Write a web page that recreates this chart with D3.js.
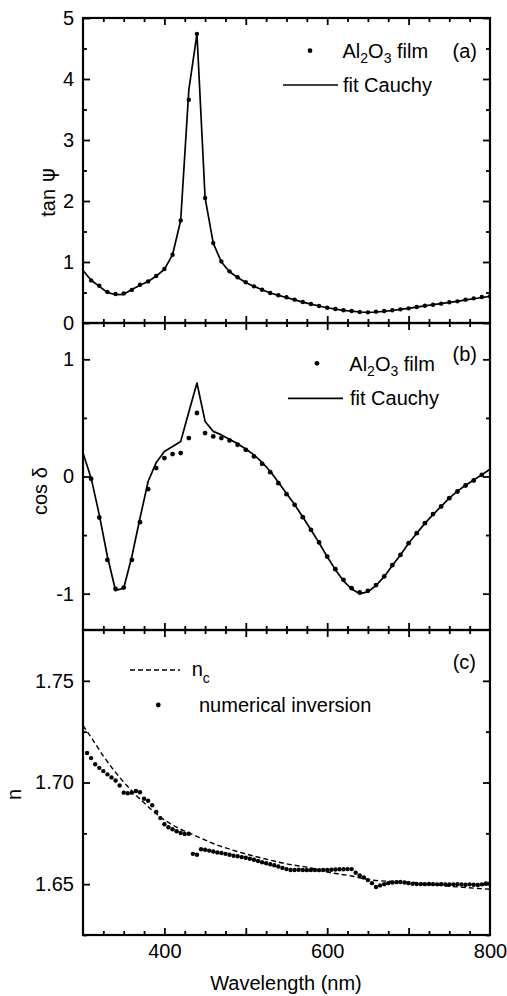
<!DOCTYPE html>
<html><head><meta charset="utf-8">
<script src="https://cdn.jsdelivr.net/npm/d3@7/dist/d3.min.js"></script>
<style>
body{margin:0;background:#fff;}
svg{display:block;font-family:"Liberation Sans",Arial,Helvetica,sans-serif;}
</style></head><body>
<svg id="chart" width="507" height="996"></svg>
<script>
// ---------- Panel (a): tan psi ----------
const waveAData = [310,320,330,340,350,360,370,380,390,400,410,420,430,440,450,460,470,480,490,500,510,520,530,540,550,560,570,580,590,600,610,620,630,640,650,660,670,680,690,700,710,720,730,740,750,760,770,780,790,800];
const tanPsiData = [0.698,0.611,0.508,0.475,0.485,0.543,0.628,0.682,0.772,0.885,1.12,1.68,3.66,4.74,2.05,1.31,1.01,0.847,0.749,0.667,0.601,0.546,0.492,0.454,0.421,0.383,0.344,0.311,0.279,0.251,0.230,0.208,0.197,0.180,0.175,0.186,0.197,0.208,0.224,0.240,0.262,0.284,0.300,0.317,0.339,0.355,0.383,0.404,0.426,0.437];
const waveFit = [300,310,320,330,340,350,360,370,380,390,400,410,420,430,440,450,460,470,480,490,500,510,520,530,540,550,560,570,580,590,600,610,620,630,640,650,660,670,680,690,700,710,720,730,740,750,760,770,780,790,800];
const tanPsiFit = [0.862,0.70,0.60,0.50,0.465,0.47,0.55,0.62,0.68,0.77,0.88,1.12,1.68,3.82,4.74,2.05,1.31,1.0,0.84,0.745,0.665,0.60,0.545,0.492,0.452,0.418,0.38,0.343,0.31,0.278,0.25,0.228,0.207,0.195,0.18,0.175,0.18,0.19,0.205,0.222,0.24,0.26,0.28,0.30,0.318,0.337,0.356,0.378,0.398,0.418,0.437];

// ---------- Panel (b): cos delta ----------
const waveBData = [310,320,330,340,350,360,370,380,390,400,410,420,430,440,450,460,470,480,490,500,510,520,530,540,550,560,570,580,590,600,610,620,630,640,650,660,670,680,690,700,710,720,730,740,750,760,770,780,790];
const cosDeltaData = [-0.02,-0.35,-0.712,-0.96,-0.948,-0.712,-0.39,-0.108,0.072,0.157,0.191,0.2,0.328,0.542,0.371,0.342,0.328,0.308,0.271,0.228,0.171,0.108,0.037,-0.057,-0.151,-0.242,-0.347,-0.455,-0.563,-0.683,-0.791,-0.882,-0.953,-0.99,-0.976,-0.927,-0.853,-0.757,-0.669,-0.569,-0.484,-0.398,-0.321,-0.256,-0.185,-0.128,-0.077,-0.034,0.014];
const cosDeltaFit = [0.20,-0.014,-0.327,-0.683,-0.973,-0.953,-0.683,-0.356,-0.043,0.12,0.214,0.256,0.299,0.55,0.798,0.47,0.385,0.355,0.318,0.28,0.235,0.185,0.12,0.045,-0.05,-0.145,-0.24,-0.345,-0.455,-0.565,-0.685,-0.795,-0.89,-0.96,-1.0,-0.985,-0.93,-0.855,-0.76,-0.67,-0.57,-0.485,-0.40,-0.325,-0.255,-0.185,-0.125,-0.075,-0.03,0.015,0.063];

// ---------- Panel (c): refractive index ----------
const waveNc = [300,312,325,340,355,375,395,415,437,460,490,518,550,580,600,630,655,700,750,800];
const nCauchy = [1.728,1.721,1.713,1.705,1.698,1.690,1.683,1.678,1.674,1.670,1.666,1.663,1.660,1.658,1.656,1.654,1.652,1.651,1.649,1.6475];
const waveInv = [305,310,315,320,325,330,335,340,345,350,355,360,365,370,375,380,385,390,395,400,405,410,415,420,425,430,435,440,445,450,455,460,465,470,475,480,485,490,495,500,505,510,515,520,525,530,535,540,545,550,555,560,565,570,575,580,585,590,595,600,605,610,615,620,625,630,635,640,645,650,655,660,665,670,675,680,685,690,695,700,705,710,715,720,725,730,735,740,745,750,755,760,765,770,775,780,785,790,795,800];
const nInversion = [1.7145,1.712,1.709,1.7072,1.7056,1.704,1.7025,1.701,1.6985,1.695,1.6947,1.695,1.6958,1.6952,1.692,1.691,1.6888,1.6855,1.6825,1.6795,1.678,1.677,1.676,1.6752,1.6747,1.6748,1.6649,1.6645,1.6672,1.6669,1.6665,1.6661,1.6656,1.6653,1.6649,1.6645,1.664,1.6637,1.6633,1.663,1.6625,1.662,1.6614,1.6608,1.6603,1.6598,1.6593,1.6587,1.658,1.6574,1.657,1.657,1.6571,1.657,1.6569,1.657,1.657,1.6569,1.657,1.657,1.6571,1.6572,1.6573,1.6573,1.6574,1.6574,1.6556,1.6543,1.6533,1.652,1.6505,1.6486,1.6494,1.65,1.6505,1.6508,1.651,1.6511,1.6508,1.6505,1.6502,1.6501,1.65,1.65,1.6501,1.65,1.6499,1.65,1.6499,1.6498,1.6499,1.65,1.6498,1.6497,1.6499,1.6497,1.6496,1.6499,1.6503,1.6503];

// ---------- Axis ticks / labels ----------
const xMajorTicks = [400,500,600,700];
const xTickLabels = [400,600,800];
const tanTicks = [0,1,2,3,4,5];
const cosTicks = [-1,0,1];
const nTicks = [1.65,1.70,1.75];

const svg = d3.select("#chart");
const FS = 20;
const x = d3.scaleLinear().domain([300,800]).range([83,490]);
const xMinor = d3.range(300,801,25).filter(v => v%100!==0);

const panels = [
  {id:"a", top:18, bottom:323, domain:[0,5], major:tanTicks, minor:[0.5,1.5,2.5,3.5,4.5], fmt:d3.format("d")},
  {id:"b", top:323, bottom:630, domain:[-1.31,1.31], major:cosTicks, minor:[-0.5,0.5], fmt:d=> d<0 ? "-"+Math.abs(d) : String(d)},
  {id:"c", top:630, bottom:935, domain:[1.625,1.775], major:nTicks, minor:[1.625,1.675,1.725], fmt:d3.format(".2f")}
];

const defs = svg.append("defs");
panels.forEach(p => {
  p.y = d3.scaleLinear().domain(p.domain).range([p.bottom,p.top]);
  defs.append("clipPath").attr("id","clip"+p.id).append("rect")
    .attr("x",83).attr("y",p.top).attr("width",407).attr("height",p.bottom-p.top);
});

function axes(p, showX){
  const g = svg.append("g").attr("class","axes").style("font-size",FS+"px");
  const mk = (sel) => { sel.select(".domain").remove(); sel.selectAll("line").attr("stroke","#000").attr("stroke-width",1.8); sel.selectAll("text").attr("fill","#000").style("font-size",FS+"px").style("font-family","'Liberation Sans',Arial,sans-serif"); };
  g.append("g").attr("transform","translate(83,0)").call(d3.axisLeft(p.y).tickValues(p.major).tickSize(-7).tickPadding(9).tickFormat(p.fmt)).call(mk);
  g.append("g").attr("transform","translate(83,0)").call(d3.axisLeft(p.y).tickValues(p.minor).tickSize(-4).tickFormat("")).call(mk);
  g.append("g").attr("transform","translate(490,0)").call(d3.axisRight(p.y).tickValues(p.major).tickSize(-7).tickFormat("")).call(mk);
  g.append("g").attr("transform","translate(490,0)").call(d3.axisRight(p.y).tickValues(p.minor).tickSize(-4).tickFormat("")).call(mk);
  g.append("g").attr("transform",`translate(0,${p.top})`).call(d3.axisTop(x).tickValues(xMajorTicks).tickSize(-7).tickFormat("")).call(mk);
  g.append("g").attr("transform",`translate(0,${p.top})`).call(d3.axisTop(x).tickValues(xMinor).tickSize(-4).tickFormat("")).call(mk);
  g.append("g").attr("transform",`translate(0,${p.bottom})`).call(d3.axisBottom(x).tickValues(xMajorTicks).tickSize(-7).tickFormat("")).call(mk);
  g.append("g").attr("transform",`translate(0,${p.bottom})`).call(d3.axisBottom(x).tickValues(xMinor).tickSize(-4).tickFormat("")).call(mk);
  if(showX){
    g.append("g").attr("transform",`translate(0,${p.bottom})`).call(d3.axisBottom(x).tickValues(xTickLabels).tickSize(0).tickPadding(9).tickFormat(d3.format("d"))).call(mk);
  }
  svg.append("rect").attr("x",83).attr("y",p.top).attr("width",407).attr("height",p.bottom-p.top)
    .attr("fill","none").attr("stroke","#000").attr("stroke-width",2.2);
}

const lineGen = (y, curve) => d3.line().x(d=>x(d[0])).y(d=>y(d[1])).curve(curve||d3.curveLinear);
const zip = (a,b) => a.map((v,i)=>[v,b[i]]);

function dots(p, w, v, r){
  svg.append("g").attr("clip-path",`url(#clip${p.id})`).selectAll("circle").data(zip(w,v)).join("circle")
    .attr("cx",d=>x(d[0])).attr("cy",d=>p.y(d[1])).attr("r",r).attr("fill","#000");
}
function path(p, w, v, dash, curve, sw){
  svg.append("path").attr("clip-path",`url(#clip${p.id})`).datum(zip(w,v))
    .attr("d",lineGen(p.y,curve)).attr("fill","none").attr("stroke","#000")
    .attr("stroke-width",sw||1.7).attr("stroke-dasharray",dash||null).attr("stroke-linejoin","round");
}

const [pa,pb,pc] = panels;
path(pa, waveFit, tanPsiFit);
dots(pa, waveAData, tanPsiData, 2.2);
path(pb, waveFit, cosDeltaFit);
dots(pb, waveBData, cosDeltaData, 2.4);
path(pc, waveNc, nCauchy, "5,3", d3.curveMonotoneX, 1.4);
dots(pc, waveInv, nInversion, 2.2);

panels.forEach((p,i)=>axes(p, i===2));

// ---------- Legends & labels ----------
const T = (xx,yy,txt,anchor) => svg.append("text").attr("x",xx).attr("y",yy).attr("text-anchor",anchor||"start").style("font-size",FS+"px").attr("fill","#000").text(txt);
function alo(xx,yy){
  const t = svg.append("text").attr("x",xx).attr("y",yy).style("font-size",FS+"px").attr("fill","#000");
  t.append("tspan").text("Al");
  t.append("tspan").attr("dy",5).style("font-size","14px").text("2");
  t.append("tspan").attr("dy",-5).text("O");
  t.append("tspan").attr("dy",5).style("font-size","14px").text("3");
  t.append("tspan").attr("dy",-5).text(" film");
  return t;
}
svg.append("circle").attr("cx",310).attr("cy",50.7).attr("r",2.4).attr("fill","#000");
alo(342.5,58);
T(477,58,"(a)","end");
svg.append("line").attr("x1",283).attr("x2",338).attr("y1",85).attr("y2",85).attr("stroke","#000").attr("stroke-width",1.7);
T(343,91.7,"fit Cauchy");

svg.append("circle").attr("cx",317).attr("cy",363.3).attr("r",2.4).attr("fill","#000");
alo(349.3,371);
T(477,361,"(b)","end");
svg.append("line").attr("x1",288).attr("x2",343).attr("y1",398.3).attr("y2",398.3).attr("stroke","#000").attr("stroke-width",1.7);
T(350,405,"fit Cauchy");

svg.append("line").attr("x1",130).attr("x2",180).attr("y1",670).attr("y2",670).attr("stroke","#000").attr("stroke-width",1.4).attr("stroke-dasharray","5,3");
{
  const t = svg.append("text").attr("x",191.7).attr("y",676).style("font-size",FS+"px").attr("fill","#000");
  t.append("tspan").text("n");
  t.append("tspan").attr("dy",7).style("font-size","14px").text("c");
}
T(476,669,"(c)","end");
svg.append("circle").attr("cx",158.3).attr("cy",705).attr("r",2.4).attr("fill","#000");
T(199,711.5,"numerical inversion");

svg.append("text").attr("transform","translate(55,216.7) rotate(-90)").style("font-size",FS+"px").attr("fill","#000")
  .call(t=>{ t.append("tspan").text("tan"); t.append("tspan").attr("dx",7).style("font-family","'DejaVu Sans',sans-serif").style("font-size","21px").text("ψ"); });
svg.append("text").attr("transform","translate(47,515) rotate(-90)").style("font-size",FS+"px").attr("fill","#000").text("cos δ");
svg.append("text").attr("transform","translate(20.7,800) rotate(-90)").style("font-size",FS+"px").attr("fill","#000").text("n");
T(286,990,"Wavelength (nm)","middle");
</script>
</body></html>
